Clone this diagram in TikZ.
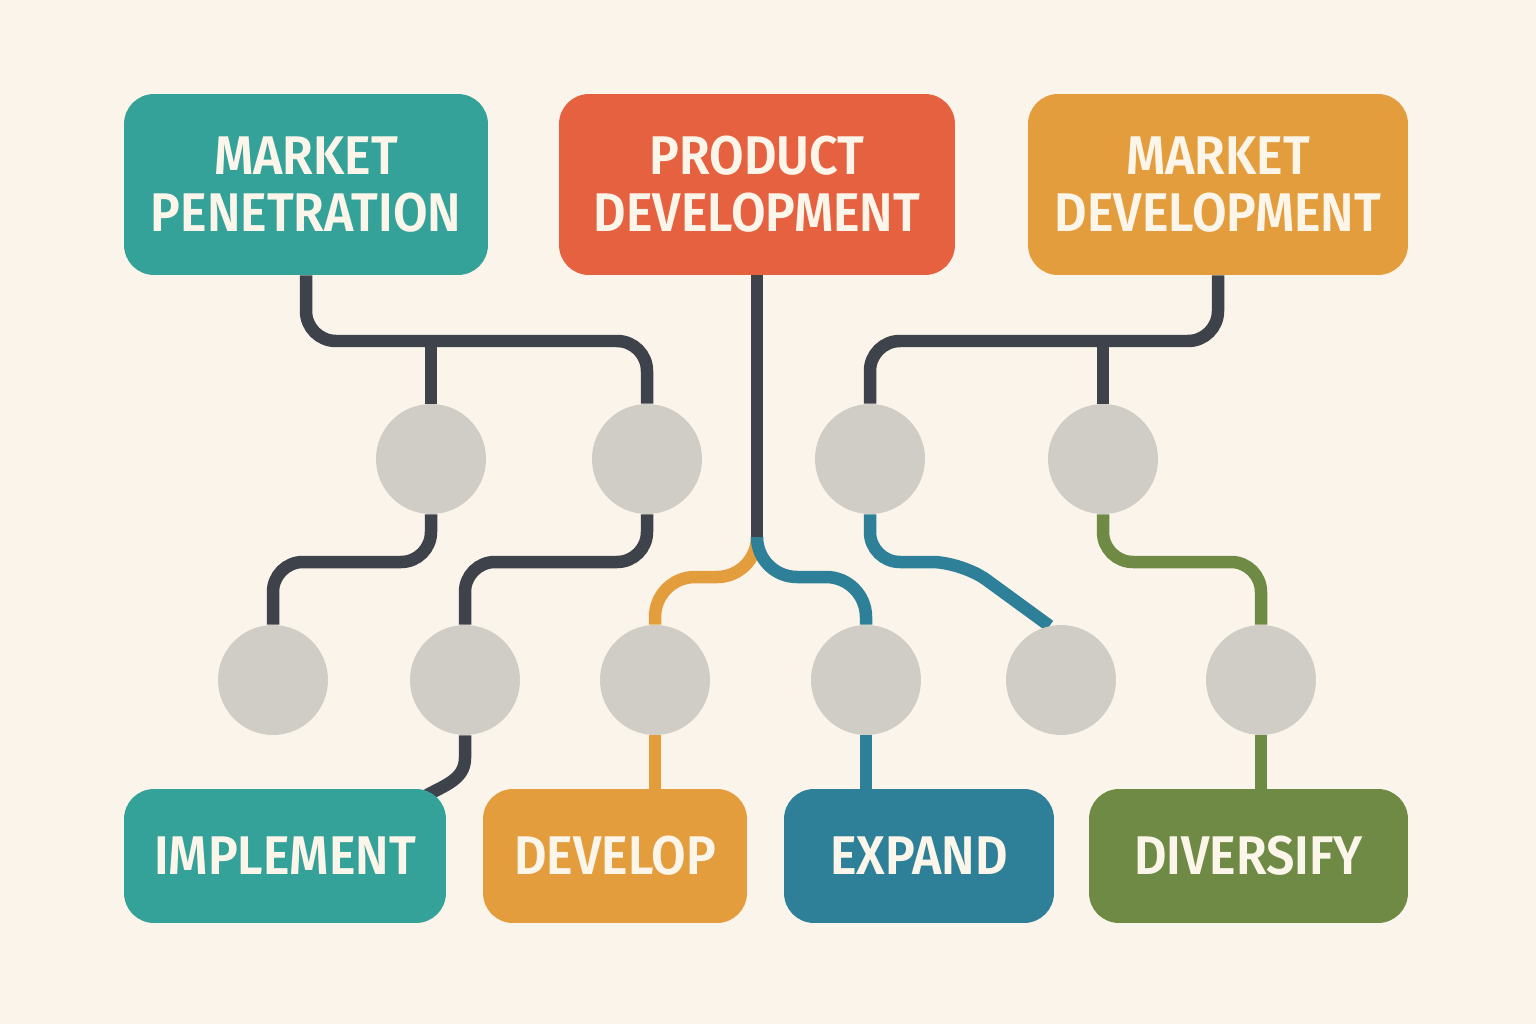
\documentclass[tikz,border=0pt]{standalone}
\usepackage{fontspec}
\setmainfont[BoldFont={Fira Sans SemiBold}, BoldFeatures={FakeStretch=0.92}]{Fira Sans}
\usepackage{tikz}
\usetikzlibrary{calc}
\definecolor{paper}{HTML}{FAF4EA}
\definecolor{tealbox}{HTML}{35A29A}
\definecolor{redbox}{HTML}{E5613F}
\definecolor{amberbox}{HTML}{E49D3D}
\definecolor{bluebox}{HTML}{2E8098}
\definecolor{greenbox}{HTML}{6E8A45}
\definecolor{wiredark}{HTML}{3E434B}
\definecolor{dotgrey}{HTML}{CFCDC5}
\definecolor{labelcream}{HTML}{FBF5EA}
\pgfdeclarelayer{paperlayer}
\pgfdeclarelayer{wirelayer}
\pgfsetlayers{paperlayer,wirelayer,main}
\tikzset{
  box/.style={rounded corners=0.6cm, text=labelcream, align=center, inner sep=0pt,
    font=\fontsize{31}{32.4}\selectfont\bfseries},
  topbox/.style={box, minimum height=3.62cm},
  lowbox/.style={box, minimum height=2.68cm},
  dot/.style={circle, fill=dotgrey, minimum size=2.2cm, inner sep=0pt},
  wire/.style={line width=0.25cm, rounded corners=0.6cm},
}

\begin{document}
\begin{tikzpicture}[x=0.02cm, y=-0.02cm]
\begin{pgfonlayer}{paperlayer}
\fill[paper] (0,0) rectangle (1536,1024);
\end{pgfonlayer}
\useasboundingbox (0,0) rectangle (1536,1024);

% strategy boxes
\node[topbox, fill=tealbox, minimum width=7.28cm] (mp) at (306,184.5) {MARKET\\PENETRATION};
\node[topbox, fill=redbox, minimum width=7.92cm] (pd) at (757,184.5) {PRODUCT\\DEVELOPMENT};
\node[topbox, fill=amberbox, minimum width=7.6cm] (md) at (1218,184.5) {MARKET\\DEVELOPMENT};

% action boxes
\node[lowbox, fill=tealbox, minimum width=6.44cm] (impl) at (285,856) {IMPLEMENT};
\node[lowbox, fill=amberbox, minimum width=5.28cm] (dev) at (615,856) {DEVELOP};
\node[lowbox, fill=bluebox, minimum width=5.4cm] (exp) at (919,856) {EXPAND};
\node[lowbox, fill=greenbox, minimum width=6.38cm] (div) at (1248.5,856) {DIVERSIFY};

% dots
\foreach \name/\x in {up1/431, up2/647, up3/870, up4/1103}
  \node[dot] (\name) at (\x,459) {};
\foreach \name/\x in {lo1/273, lo2/465, lo3/655, lo4/866, lo5/1061, lo6/1261}
  \node[dot] (\name) at (\x,680) {};

\begin{pgfonlayer}{wirelayer}
% market penetration
\draw[wire, wiredark] (mp.south) -- (mp.south |- 0,341) -| (up2.north);
\draw[wire, wiredark] (up1.north |- 0,341) -- (up1.north);
\draw[wire, wiredark] (up1.south) -- (up1.south |- 0,562) -| (lo1.north);
\draw[wire, wiredark] (up2.south) -- (up2.south |- 0,562) -| (lo2.north);
\draw[wire, wiredark, sharp corners] (lo2.south) -- (lo2.south |- 0,758) to[out=-90, in=30] ($(impl.north east)+(-22,8)$);
% product development
\coordinate (fork) at (pd.south |- 0,537);
\draw[wire, amberbox, rounded corners=0.8cm] (fork) -- (fork |- 0,577) -| (lo3.north);
\draw[wire, bluebox, rounded corners=0.8cm] (fork) -- (fork |- 0,577) -| (lo4.north);
\draw[wire, wiredark] (pd.south) -- (fork);
\draw[wire, amberbox] (lo3.south) -- (lo3.south |- dev.north);
\draw[wire, bluebox] (lo4.south) -- (lo4.south |- exp.north);
% market development
\draw[wire, wiredark] (md.south) -- (md.south |- 0,341) -| (up3.north);
\draw[wire, wiredark] (up4.north |- 0,341) -- (up4.north);
\draw[wire, bluebox] (up3.south) -- (up3.south |- 0,562) -- (962,562) -- (lo5.102);
\draw[wire, greenbox] (up4.south) -- (up4.south |- 0,562) -| (lo6.north);
\draw[wire, greenbox] (lo6.south) -- (lo6.south |- div.north);
\end{pgfonlayer}
\end{tikzpicture}
\end{document}
